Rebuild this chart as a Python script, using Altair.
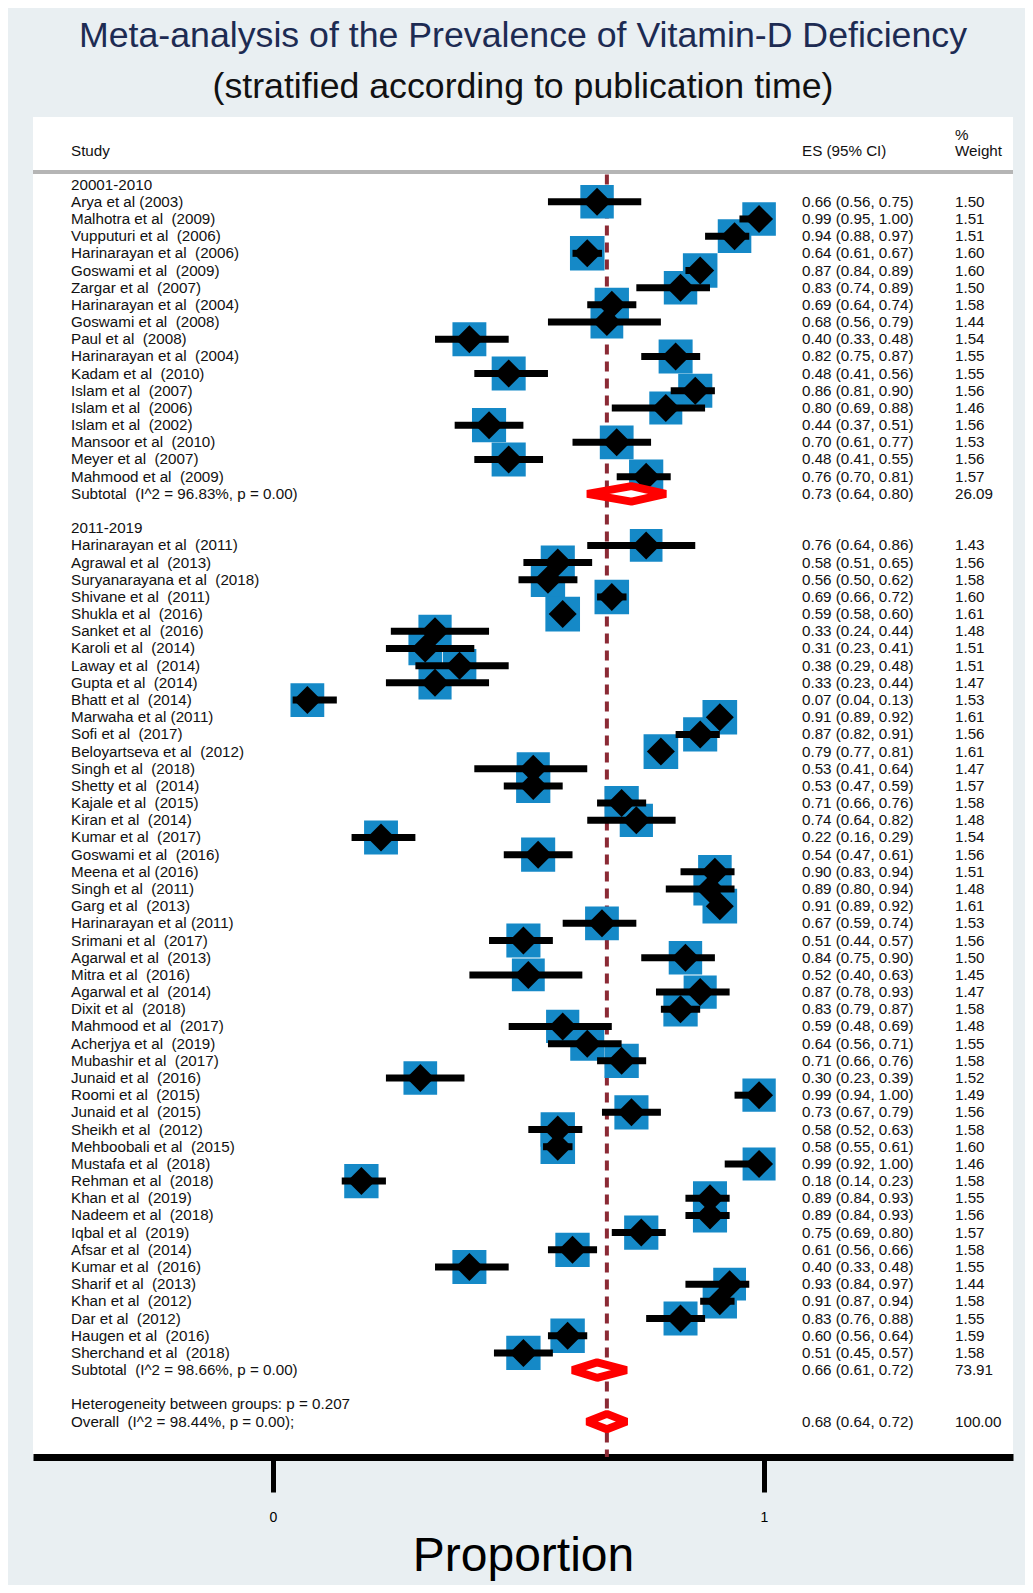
import altair as alt
import pandas as pd

# ---------------- data ----------------
title_line1 = "Meta-analysis of the Prevalence of Vitamin-D Deficiency"
title_line2 = "(stratified according to publication time)"

group_labels = ["20001-2010", "2011-2019"]

g1_names = [
    "Arya et al (2003)", "Malhotra et al  (2009)", "Vupputuri et al  (2006)",
    "Harinarayan et al  (2006)", "Goswami et al  (2009)", "Zargar et al  (2007)",
    "Harinarayan et al  (2004)", "Goswami et al  (2008)", "Paul et al  (2008)",
    "Harinarayan et al  (2004)", "Kadam et al  (2010)", "Islam et al  (2007)",
    "Islam et al  (2006)", "Islam et al  (2002)", "Mansoor et al  (2010)",
    "Meyer et al  (2007)", "Mahmood et al  (2009)",
]
g1_es = [0.66, 0.99, 0.94, 0.64, 0.87, 0.83, 0.69, 0.68, 0.40, 0.82, 0.48, 0.86, 0.80, 0.44, 0.70, 0.48, 0.76]
g1_lo = [0.56, 0.95, 0.88, 0.61, 0.84, 0.74, 0.64, 0.56, 0.33, 0.75, 0.41, 0.81, 0.69, 0.37, 0.61, 0.41, 0.70]
g1_hi = [0.75, 1.00, 0.97, 0.67, 0.89, 0.89, 0.74, 0.79, 0.48, 0.87, 0.56, 0.90, 0.88, 0.51, 0.77, 0.55, 0.81]
g1_w = [1.50, 1.51, 1.51, 1.60, 1.60, 1.50, 1.58, 1.44, 1.54, 1.55, 1.55, 1.56, 1.46, 1.56, 1.53, 1.56, 1.57]

g2_names = [
    "Harinarayan et al  (2011)", "Agrawal et al  (2013)", "Suryanarayana et al  (2018)",
    "Shivane et al  (2011)", "Shukla et al  (2016)", "Sanket et al  (2016)",
    "Karoli et al  (2014)", "Laway et al  (2014)", "Gupta et al  (2014)",
    "Bhatt et al  (2014)", "Marwaha et al (2011)", "Sofi et al  (2017)",
    "Beloyartseva et al  (2012)", "Singh et al  (2018)", "Shetty et al  (2014)",
    "Kajale et al  (2015)", "Kiran et al  (2014)", "Kumar et al  (2017)",
    "Goswami et al  (2016)", "Meena et al (2016)", "Singh et al  (2011)",
    "Garg et al  (2013)", "Harinarayan et al (2011)", "Srimani et al  (2017)",
    "Agarwal et al  (2013)", "Mitra et al  (2016)", "Agarwal et al  (2014)",
    "Dixit et al  (2018)", "Mahmood et al  (2017)", "Acherjya et al  (2019)",
    "Mubashir et al  (2017)", "Junaid et al  (2016)", "Roomi et al  (2015)",
    "Junaid et al  (2015)", "Sheikh et al  (2012)", "Mehboobali et al  (2015)",
    "Mustafa et al  (2018)", "Rehman et al  (2018)", "Khan et al  (2019)",
    "Nadeem et al  (2018)", "Iqbal et al  (2019)", "Afsar et al  (2014)",
    "Kumar et al  (2016)", "Sharif et al  (2013)", "Khan et al  (2012)",
    "Dar et al  (2012)", "Haugen et al  (2016)", "Sherchand et al  (2018)",
]
g2_es = [0.76, 0.58, 0.56, 0.69, 0.59, 0.33, 0.31, 0.38, 0.33, 0.07, 0.91, 0.87, 0.79, 0.53, 0.53, 0.71,
         0.74, 0.22, 0.54, 0.90, 0.89, 0.91, 0.67, 0.51, 0.84, 0.52, 0.87, 0.83, 0.59, 0.64, 0.71, 0.30,
         0.99, 0.73, 0.58, 0.58, 0.99, 0.18, 0.89, 0.89, 0.75, 0.61, 0.40, 0.93, 0.91, 0.83, 0.60, 0.51]
g2_lo = [0.64, 0.51, 0.50, 0.66, 0.58, 0.24, 0.23, 0.29, 0.23, 0.04, 0.89, 0.82, 0.77, 0.41, 0.47, 0.66,
         0.64, 0.16, 0.47, 0.83, 0.80, 0.89, 0.59, 0.44, 0.75, 0.40, 0.78, 0.79, 0.48, 0.56, 0.66, 0.23,
         0.94, 0.67, 0.52, 0.55, 0.92, 0.14, 0.84, 0.84, 0.69, 0.56, 0.33, 0.84, 0.87, 0.76, 0.56, 0.45]
g2_hi = [0.86, 0.65, 0.62, 0.72, 0.60, 0.44, 0.41, 0.48, 0.44, 0.13, 0.92, 0.91, 0.81, 0.64, 0.59, 0.76,
         0.82, 0.29, 0.61, 0.94, 0.94, 0.92, 0.74, 0.57, 0.90, 0.63, 0.93, 0.87, 0.69, 0.71, 0.76, 0.39,
         1.00, 0.79, 0.63, 0.61, 1.00, 0.23, 0.93, 0.93, 0.80, 0.66, 0.48, 0.97, 0.94, 0.88, 0.64, 0.57]
g2_w = [1.43, 1.56, 1.58, 1.60, 1.61, 1.48, 1.51, 1.51, 1.47, 1.53, 1.61, 1.56, 1.61, 1.47, 1.57, 1.58,
        1.48, 1.54, 1.56, 1.51, 1.48, 1.61, 1.53, 1.56, 1.50, 1.45, 1.47, 1.58, 1.48, 1.55, 1.58, 1.52,
        1.49, 1.56, 1.58, 1.60, 1.46, 1.58, 1.55, 1.56, 1.57, 1.58, 1.55, 1.44, 1.58, 1.55, 1.59, 1.58]

sub_labels = ["Subtotal  (I^2 = 96.83%, p = 0.00)", "Subtotal  (I^2 = 98.66%, p = 0.00)"]
sub_es = [0.73, 0.66]
sub_lo = [0.64, 0.61]
sub_hi = [0.80, 0.72]
sub_w = [26.09, 73.91]

het_label = "Heterogeneity between groups: p = 0.207"
overall_label = "Overall  (I^2 = 98.44%, p = 0.00);"
overall_es = 0.68
overall_lo = 0.64
overall_hi = 0.72
overall_w = 100.00

x_ticks = [0, 1]
x_title = "Proportion"
head_study = "Study"
head_es = "ES (95% CI)"
head_w1 = "%"
head_w2 = "Weight"

# ---------------- layout / style ----------------
FONT = "Liberation Sans"
W, H = 980, 1340
PAD = {"left": 25, "top": 109, "right": 12, "bottom": 128}
BG = "#e9eff2"
BLUE = "#1589c7"
TXT = "#111111"
FS = 15.2
X_LABEL, X_ES, X_W = 38, 769, 922
ROW_HEAD, ROW_PCT, ROW_RULE = -1.956, -2.887, -0.733
HALF_DIAM = 0.45

xscale = alt.Scale(domain=[-0.48880, 1.50713], nice=False, zero=False)
yscale = alt.Scale(domain=[-3.935, 74.06], reverse=True, nice=False, zero=False)
xaxis = alt.Axis(values=x_ticks, format="d", grid=False, domainWidth=7, domainColor="black",
                 tickSize=35, tickWidth=5, tickColor="black", labelFontSize=14, labelPadding=18,
                 labelFont=FONT, labelColor="black", titleFont=FONT, titleFontSize=48,
                 titleFontWeight="normal", titleColor="black", titlePadding=8)


def nb(s):
    return s.replace("  ", "\u00a0 ")


# ---------------- build tables ----------------
study_rows, text_rows, diam_rows = [], [], []
row = 0
groups = [(g1_names, g1_es, g1_lo, g1_hi, g1_w), (g2_names, g2_es, g2_lo, g2_hi, g2_w)]
for gi, (names, es, lo, hi, w) in enumerate(groups):
    text_rows.append({"row": row, "label": group_labels[gi], "estext": "", "wtext": ""})
    row += 1
    for n, e, l, h, ww in zip(names, es, lo, hi, w):
        study_rows.append({"row": row, "es": e, "lo": l, "hi": h, "w": ww})
        text_rows.append({"row": row, "label": nb(n),
                          "estext": f"{e:.2f} ({l:.2f}, {h:.2f})", "wtext": f"{ww:.2f}"})
        row += 1
    text_rows.append({"row": row, "label": nb(sub_labels[gi]),
                      "estext": f"{sub_es[gi]:.2f} ({sub_lo[gi]:.2f}, {sub_hi[gi]:.2f})",
                      "wtext": f"{sub_w[gi]:.2f}"})
    diam_rows.append((f"sub{gi}", row, sub_es[gi], sub_lo[gi], sub_hi[gi]))
    row += 2
text_rows.append({"row": row, "label": het_label, "estext": "", "wtext": ""})
row += 1
text_rows.append({"row": row, "label": nb(overall_label),
                  "estext": f"{overall_es:.2f} ({overall_lo:.2f}, {overall_hi:.2f})",
                  "wtext": f"{overall_w:.2f}"})
diam_rows.append(("overall", row, overall_es, overall_lo, overall_hi))

studies = pd.DataFrame(study_rows)
texts = pd.DataFrame(text_rows)
poly = []
for did, r, e, l, h in diam_rows:
    poly.append({"id": did, "x": l, "y": r, "y2": r})
    poly.append({"id": did, "x": e, "y": r - HALF_DIAM, "y2": r + HALF_DIAM})
    poly.append({"id": did, "x": h, "y": r, "y2": r})
diamonds = pd.DataFrame(poly)

header = pd.DataFrame([
    {"row": ROW_HEAD, "txt": head_study, "px": X_LABEL},
    {"row": ROW_HEAD, "txt": head_es, "px": X_ES},
    {"row": ROW_HEAD, "txt": head_w2, "px": X_W},
    {"row": ROW_PCT, "txt": head_w1, "px": X_W},
])

X = lambda f: alt.X(f, type="quantitative", scale=xscale, axis=xaxis, title=x_title)
Y = lambda f: alt.Y(f, type="quantitative", scale=yscale, axis=None)

# ---------------- layers ----------------
gray_rule = alt.Chart(pd.DataFrame({"row": [ROW_RULE]})).mark_rule(
    color="#b5b5b5", strokeWidth=4).encode(x=alt.value(0), x2=alt.value(W), y=Y("row"))

dash = alt.Chart(pd.DataFrame({"es": [overall_es], "r1": [ROW_RULE + 0.15], "r2": [74.06]})).mark_rule(
    color="#8b2a35", strokeWidth=4, strokeDash=[10, 7]).encode(x=X("es"), y=Y("r1"), y2="r2")

boxes = alt.Chart(studies).mark_point(shape="square", filled=True, color=BLUE, opacity=1).encode(
    x=X("es"), y=Y("row"),
    size=alt.Size("w:Q", scale=alt.Scale(domain=[0, 1.55], range=[0, 1156]), legend=None))

ci = alt.Chart(studies).mark_rule(color="black", strokeWidth=7).encode(
    x=X("lo"), x2="hi", y=Y("row"))

dots = alt.Chart(studies).mark_point(shape="diamond", filled=True, color="black", size=784, opacity=1).encode(
    x=X("es"), y=Y("row"))

pooled = alt.Chart(diamonds).mark_area(fill="white", stroke="#ff0000", strokeWidth=8,
                                       strokeJoin="bevel", opacity=1).encode(
    x=X("x"), y=Y("y"), y2="y2", detail="id:N")

tstyle = dict(font=FONT, fontSize=FS, color=TXT, align="left", baseline="middle")
lab = alt.Chart(texts).mark_text(**tstyle).encode(x=alt.value(X_LABEL), y=Y("row"), text="label:N")
est = alt.Chart(texts).mark_text(**tstyle).encode(x=alt.value(X_ES), y=Y("row"), text="estext:N")
wt = alt.Chart(texts).mark_text(**tstyle).encode(x=alt.value(X_W), y=Y("row"), text="wtext:N")
hdr = alt.Chart(header).mark_text(**tstyle).encode(x=alt.X("px:Q", scale=None), y=Y("row"), text="txt:N")

titles = alt.Chart(pd.DataFrame({"t": [title_line1, title_line2], "c": ["a", "b"],
                                 "py": [-81, -30]})).mark_text(
    font=FONT, fontSize=35.7, align="center", baseline="middle").encode(
    x=alt.value(W / 2), y=alt.Y("py:Q", scale=None), text="t:N",
    color=alt.Color("c:N", scale=alt.Scale(domain=["a", "b"], range=["#1d2b53", "#111111"]), legend=None))

chart = alt.layer(gray_rule, dash, boxes, ci, dots, pooled, lab, est, wt, hdr, titles).properties(
    width=W, height=H, padding=PAD, background=BG,
    autosize=alt.AutoSizeParams(type="none"),
).configure_view(fill="white", stroke=None)

chart.save("out.html", embed_options={"renderer": "svg", "actions": False})
